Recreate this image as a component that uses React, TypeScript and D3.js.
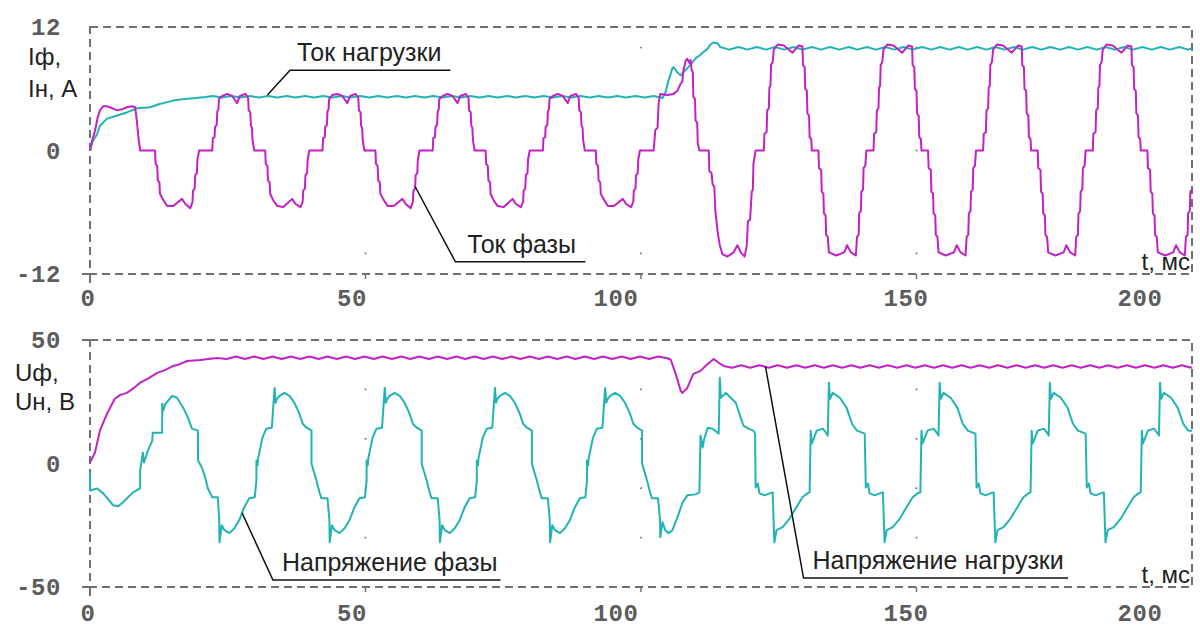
import React from "react";
import * as d3 from "d3";

// ---------- data (t in ms, value) as flat pairs ----------
const phaseCurrent = [
  0,0, 0.4,1.0, 0.9,1.9, 1.4,3.2, 1.8,3.9, 2.4,4.3, 3.0,4.3, 3.6,4.2, 4.9,3.9, 5.8,4.0, 6.7,4.2, 7.6,4.3, 8.2,4.2, 8.5,2.9, 8.8,1.2, 9.1,0,
  11.8,0, 11.9,-1.3, 12.2,-1.5, 12.3,-2.9, 12.6,-3.1, 12.7,-4.2, 13.3,-4.8, 14.0,-5.4, 15.1,-5.4, 16.7,-4.7, 17.3,-5.2, 18.2,-5.6, 18.6,-5.0, 18.7,-3.9, 19.0,-3.7, 19.1,-2.4, 19.4,-2.2, 19.5,-0.9, 19.8,0, 22.2,0, 22.3,1.2, 22.6,1.3, 22.7,2.3, 23.0,2.5, 23.1,3.8, 23.3,4.0, 23.4,5.0, 24.0,5.3, 24.9,5.5, 25.8,5.3, 26.7,4.6, 27.2,5.3, 28.2,5.5, 28.7,5.1, 28.8,3.9, 29.1,3.7, 29.2,2.4, 29.4,2.2, 29.5,1.0, 29.8,0,
  31.8,0, 31.9,-1.3, 32.2,-1.5, 32.3,-2.9, 32.6,-3.1, 32.7,-4.2, 33.3,-4.9, 34.0,-5.4, 35.1,-5.5, 36.7,-4.7, 37.3,-5.2, 38.2,-5.5, 38.6,-5.0, 38.7,-3.9, 39.0,-3.7, 39.1,-2.4, 39.4,-2.2, 39.5,-0.9, 39.8,0, 42.2,0, 42.3,1.2, 42.6,1.3, 42.7,2.3, 43.0,2.5, 43.1,3.8, 43.3,4.0, 43.4,5.0, 44.0,5.4, 44.9,5.5, 45.8,5.3, 46.7,4.6, 47.2,5.3, 48.2,5.5, 48.7,5.1, 48.8,3.9, 49.1,3.7, 49.2,2.4, 49.4,2.2, 49.5,1.0, 49.8,0,
  51.8,0, 51.9,-1.3, 52.2,-1.5, 52.3,-2.9, 52.6,-3.1, 52.7,-4.2, 53.3,-4.8, 54.0,-5.4, 55.1,-5.4, 56.7,-4.7, 57.3,-5.2, 58.2,-5.6, 58.6,-5.0, 58.7,-3.9, 59.0,-3.7, 59.1,-2.4, 59.4,-2.2, 59.5,-0.9, 59.8,0, 62.2,0, 62.3,1.2, 62.6,1.3, 62.7,2.3, 63.0,2.5, 63.1,3.8, 63.3,4.0, 63.4,5.0, 64.0,5.3, 64.9,5.5, 65.8,5.3, 66.7,4.6, 67.2,5.3, 68.2,5.5, 68.7,5.1, 68.8,3.9, 69.1,3.7, 69.2,2.4, 69.4,2.2, 69.5,1.0, 69.8,0,
  71.8,0, 71.9,-1.3, 72.2,-1.5, 72.3,-2.9, 72.6,-3.1, 72.7,-4.2, 73.3,-4.9, 74.0,-5.4, 75.1,-5.5, 76.7,-4.7, 77.3,-5.2, 78.2,-5.5, 78.6,-5.0, 78.7,-3.9, 79.0,-3.7, 79.1,-2.4, 79.4,-2.2, 79.5,-0.9, 79.8,0, 82.2,0, 82.3,1.2, 82.6,1.3, 82.7,2.3, 83.0,2.5, 83.1,3.8, 83.3,4.0, 83.4,5.0, 84.0,5.3, 84.9,5.5, 85.8,5.3, 86.7,4.6, 87.2,5.3, 88.2,5.5, 88.7,5.1, 88.8,3.9, 89.1,3.7, 89.2,2.4, 89.4,2.2, 89.5,1.0, 89.8,0,
  91.8,0, 91.9,-1.3, 92.2,-1.5, 92.3,-2.9, 92.6,-3.1, 92.7,-4.2, 93.3,-4.8, 94.0,-5.4, 95.1,-5.4, 96.7,-4.7, 97.3,-5.2, 98.2,-5.5, 98.6,-5.0, 98.7,-3.9, 99.0,-3.7, 99.1,-2.4, 99.4,-2.2, 99.5,-0.9, 99.8,0,
  102.3,0, 102.6,2.0, 103.0,2.2, 103.2,4.6, 103.5,5.5, 104.8,5.4, 105.9,5.5, 106.6,5.8, 107.2,6.5, 107.5,6.7, 107.7,7.8, 108.1,8.7, 108.4,8.9, 108.8,8.5, 109.0,8.8, 109.2,7.8, 109.4,7.6, 109.5,5.2, 109.8,5.0, 109.9,2.9, 110.2,2.7, 110.3,0.7, 110.6,0, 112.3,0, 112.4,-2.0, 112.8,-2.2, 113.0,-3.3, 113.3,-3.5, 113.5,-5.9, 113.9,-7.9, 114.3,-9.2, 114.8,-10.1, 115.7,-10.3, 116.8,-9.9, 117.5,-9.2, 118.1,-9.9, 118.8,-10.3, 119.2,-9.2, 119.4,-6.9, 119.8,-6.7, 120.1,-4.0, 120.3,-3.8, 120.4,-1.3, 120.8,0,
  122.3,0, 122.4,1.6, 122.8,1.8, 122.9,3.9, 123.2,4.1, 123.3,6.1, 123.5,6.3, 123.6,8.3, 123.9,8.6, 124.1,9.8, 124.8,10.3, 125.9,10.2, 127.5,9.5, 128.6,10.2, 129.3,10.1, 129.4,8.3, 129.7,8.1, 129.8,6.0, 130.1,5.8, 130.2,3.6, 130.5,3.4, 130.6,1.3, 130.9,1.1, 131.0,0, 132.2,0, 132.3,-1.7, 132.7,-1.9, 132.8,-4.0, 133.1,-4.2, 133.2,-6.1, 133.5,-6.3, 133.6,-8.2, 133.9,-8.4, 134.1,-9.9, 135.4,-10.2, 136.9,-9.9, 137.4,-9.2, 138.1,-9.9, 139.0,-10.2, 139.2,-8.4, 139.5,-8.2, 139.6,-6.1, 139.9,-5.9, 140.0,-4.0, 140.3,-3.8, 140.4,-1.7, 140.7,-1.5, 140.9,0,
  142.2,0, 142.3,1.6, 142.7,1.8, 142.8,3.9, 143.1,4.1, 143.2,6.1, 143.4,6.3, 143.5,8.3, 143.8,8.6, 144.0,9.8, 144.7,10.3, 145.8,10.2, 147.4,9.5, 148.5,10.2, 149.2,10.1, 149.3,8.3, 149.6,8.1, 149.7,6.0, 150.0,5.8, 150.1,3.6, 150.4,3.4, 150.5,1.3, 150.8,1.1, 150.9,0, 152.1,0, 152.2,-1.7, 152.6,-1.9, 152.7,-4.0, 153.0,-4.2, 153.1,-6.1, 153.4,-6.3, 153.5,-8.2, 153.8,-8.4, 154.0,-9.9, 155.3,-10.2, 156.8,-9.9, 157.3,-9.2, 158.0,-9.9, 158.9,-10.2, 159.1,-8.4, 159.4,-8.2, 159.5,-6.1, 159.8,-5.9, 159.9,-4.0, 160.2,-3.8, 160.3,-1.7, 160.6,-1.5, 160.8,0,
  162.1,0, 162.2,1.6, 162.6,1.8, 162.7,3.9, 163.0,4.1, 163.1,6.1, 163.3,6.3, 163.4,8.3, 163.7,8.6, 163.9,9.8, 164.6,10.3, 165.7,10.2, 167.3,9.5, 168.4,10.2, 169.1,10.1, 169.2,8.3, 169.5,8.1, 169.6,6.0, 169.9,5.8, 170.0,3.6, 170.3,3.4, 170.4,1.3, 170.7,1.1, 170.8,0, 172.0,0, 172.1,-1.7, 172.5,-1.9, 172.6,-4.0, 172.9,-4.2, 173.0,-6.1, 173.3,-6.3, 173.4,-8.2, 173.7,-8.4, 173.9,-9.9, 175.2,-10.2, 176.7,-9.9, 177.2,-9.2, 177.9,-9.9, 178.8,-10.2, 179.0,-8.4, 179.3,-8.2, 179.4,-6.1, 179.7,-5.9, 179.8,-4.0, 180.1,-3.8, 180.2,-1.7, 180.5,-1.5, 180.7,0,
  182.0,0, 182.1,1.6, 182.5,1.8, 182.6,3.9, 182.9,4.1, 183.0,6.1, 183.2,6.3, 183.3,8.3, 183.6,8.6, 183.8,9.8, 184.5,10.3, 185.6,10.2, 187.2,9.5, 188.3,10.2, 189.0,10.1, 189.1,8.3, 189.4,8.1, 189.5,6.0, 189.8,5.8, 189.9,3.6, 190.2,3.4, 190.3,1.3, 190.6,1.1, 190.7,0, 191.9,0, 192.0,-1.7, 192.4,-1.9, 192.5,-4.0, 192.8,-4.2, 192.9,-6.1, 193.2,-6.3, 193.3,-8.2, 193.6,-8.4, 193.8,-9.9, 195.1,-10.2, 196.6,-9.9, 197.1,-9.2, 197.8,-9.9, 198.7,-10.2, 198.9,-8.4, 199.2,-8.2, 199.3,-6.1, 199.6,-5.9, 199.7,-4.0, 200.0,-3.8,
];

const loadCurrent = [
  0,0, 0.5,0.9, 1.3,1.6, 1.8,2.4, 3.1,3.1, 4.9,3.4, 6.7,3.7, 8.5,4.1, 10.9,4.2, 12.5,4.5, 14.0,4.7, 15.6,4.9, 17.3,5.0, 19.2,5.1, 21.0,5.2, 22.3,5.3,
  24.0,5.15, 25.7,5.3, 27.3,5.15, 29.0,5.3, 30.7,5.15, 32.3,5.3, 34.0,5.15, 35.7,5.3, 37.3,5.15, 39.0,5.3, 40.7,5.15, 42.3,5.3, 44.0,5.15, 45.7,5.3, 47.3,5.15, 49.0,5.3, 50.7,5.15, 52.3,5.3, 54.0,5.15, 55.7,5.3, 57.3,5.15, 59.0,5.3, 60.7,5.15, 62.3,5.3, 64.0,5.15, 65.7,5.3, 67.3,5.15, 69.0,5.3, 70.7,5.15, 72.3,5.3, 74.0,5.15, 75.7,5.3, 77.3,5.15, 79.0,5.3, 80.7,5.15, 82.3,5.3, 84.0,5.15, 85.7,5.3, 87.3,5.15, 89.0,5.3, 90.7,5.15, 92.3,5.3, 94.0,5.15, 95.7,5.3, 97.3,5.15, 99.0,5.3, 100.7,5.15, 102.3,5.3,
  103.9,5.1, 104.4,5.6, 105.0,6.8, 105.7,8.0, 105.9,8.1, 106.6,7.6, 107.2,7.3, 107.7,7.6, 108.6,8.1, 109.4,8.6, 110.0,9.0, 110.8,9.3, 111.4,9.6, 112.1,9.9, 112.6,10.3, 113.2,10.5, 113.9,10.4, 114.4,10.05,
  116.0,9.8, 117.7,10.05, 119.3,9.8, 121.0,10.05, 122.7,9.8, 124.3,10.05, 126.0,9.8, 127.7,10.05, 129.3,9.8, 131.0,10.05, 132.7,9.8, 134.3,10.05, 136.0,9.8, 137.7,10.05, 139.3,9.8, 141.0,10.05, 142.7,9.8, 144.3,10.05, 146.0,9.8, 147.7,10.05, 149.3,9.8, 151.0,10.05, 152.7,9.8, 154.3,10.05, 156.0,9.8, 157.7,10.05, 159.3,9.8, 161.0,10.05, 162.7,9.8, 164.3,10.05, 166.0,9.8, 167.7,10.05, 169.3,9.8, 171.0,10.05, 172.7,9.8, 174.3,10.05, 176.0,9.8, 177.7,10.05, 179.3,9.8, 181.0,10.05, 182.7,9.8, 184.3,10.05, 186.0,9.8, 187.7,10.05, 189.3,9.8, 191.0,10.05, 192.7,9.8, 194.3,10.05, 196.0,9.8, 197.7,10.05, 199.3,9.8, 200.0,9.95,
];

const phaseVoltage = [
  0,-3.6, 0,-10.9, 1.3,-10.1, 2.4,-12.1, 4.2,-16.9, 5.1,-17.3, 6.0,-15.7, 7.8,-11.7, 9.1,-10.1, 9.1,-2.8, 9.6,4.4, 9.8,0.4, 10.5,5.2, 11.3,9.3, 11.4,12.5, 13.1,12.5, 13.1,24.2, 13.3,21.4, 13.6,23.8, 14.9,27.4, 15.8,26.6, 16.9,22.6, 17.8,18.5, 18.5,14.1, 19.6,13.3, 19.6,1.2, 20.3,-1.6, 20.9,-5.6, 21.4,-10.1, 22.2,-13.7, 23.2,-13.7, 23.45,-22.9,
  23.5,-31.9, 23.9,-25.0, 24.4,-27.0, 25.3,-28.2, 26.2,-26.2, 27.1,-22.9, 28.0,-17.7, 28.9,-14.1, 29.9,-13.7, 30.2,-6.9, 30.2,1.2, 30.4,-0.8, 30.5,2.0, 30.8,5.2, 31.3,10.5, 32.0,14.1, 33.0,14.5, 33.5,30.6, 33.7,24.6, 33.9,26.0, 34.4,27.4, 35.3,28.6, 36.2,27.4, 37.1,24.6, 38.0,20.2, 38.6,16.1, 39.3,14.5, 40.2,13.3, 40.2,0, 40.4,-1.6, 41.1,-6.9, 41.7,-12.1, 42.0,-14.1, 43.1,-14.1, 43.45,-22.9,
  43.5,-31.9, 43.9,-25.0, 44.4,-27.0, 45.3,-28.2, 46.2,-26.2, 47.1,-22.9, 48.0,-17.7, 48.9,-14.1, 49.9,-13.7, 50.2,-6.9, 50.2,1.2, 50.4,-0.8, 50.5,2.0, 50.8,5.2, 51.3,10.5, 52.0,14.1, 53.0,14.5, 53.5,30.6, 53.7,24.6, 53.9,26.0, 54.4,27.4, 55.3,28.6, 56.2,27.4, 57.1,24.6, 58.0,20.2, 58.6,16.1, 59.3,14.5, 60.2,13.3, 60.2,0, 60.4,-1.6, 61.1,-6.9, 61.7,-12.1, 62.0,-14.1, 63.1,-14.1, 63.45,-22.9,
  63.5,-31.9, 63.9,-25.0, 64.4,-27.0, 65.3,-28.2, 66.2,-26.2, 67.1,-22.9, 68.0,-17.7, 68.9,-14.1, 69.9,-13.7, 70.2,-6.9, 70.2,1.2, 70.4,-0.8, 70.5,2.0, 70.8,5.2, 71.3,10.5, 72.0,14.1, 73.0,14.5, 73.5,30.6, 73.7,24.6, 73.9,26.0, 74.4,27.4, 75.3,28.6, 76.2,27.4, 77.1,24.6, 78.0,20.2, 78.6,16.1, 79.3,14.5, 80.2,13.3, 80.2,0, 80.4,-1.6, 81.1,-6.9, 81.7,-12.1, 82.0,-14.1, 83.1,-14.1, 83.45,-22.9,
  83.5,-31.9, 83.9,-25.0, 84.4,-27.0, 85.3,-28.2, 86.2,-26.2, 87.1,-22.9, 88.0,-17.7, 88.9,-14.1, 89.9,-13.7, 90.2,-6.9, 90.2,1.2, 90.4,-0.8, 90.5,2.0, 90.8,5.2, 91.3,10.5, 92.0,14.1, 93.0,14.5, 93.5,30.6, 93.7,24.6, 93.9,26.0, 94.4,27.4, 95.3,28.6, 96.2,27.4, 97.1,24.6, 98.0,20.2, 98.6,16.1, 99.3,14.5, 100.2,13.3, 100.2,0, 100.4,-1.6, 101.1,-6.9, 101.7,-12.1, 102.0,-14.1, 103.1,-14.1, 103.45,-22.9,
  103.5,-29.8, 103.9,-23.8, 104.4,-27.0, 105.0,-28.2, 105.7,-27.0, 106.6,-21.8, 107.5,-16.1, 108.4,-12.9, 109.9,-12.5, 110.6,-11.7, 110.8,11.3, 111.2,6.5, 111.4,9.3, 112.1,14.5, 113.0,14.1, 114.1,12.1, 114.3,34.7, 114.5,26.6, 115.4,28.6, 116.3,26.6, 117.2,24.6, 118.1,18.5, 118.6,15.3, 119.5,14.1, 120.4,13.3, 120.7,12.1,
  120.8,-9.7, 121.2,-8.1, 121.5,-12.1, 122.4,-12.9, 123.3,-12.1, 123.9,-11.7, 124.2,-31.9, 124.6,-27.0, 125.7,-25.8, 127.0,-22.2, 128.2,-17.7, 129.3,-13.7, 130.2,-12.1, 130.6,-11.7,
  130.8,13.3, 131.0,8.1, 131.2,9.3, 131.9,13.3, 133.0,14.1, 133.7,12.1, 133.9,11.3, 134.1,32.7, 134.3,26.2, 134.8,28.6, 136.1,26.6, 137.3,22.6, 138.3,16.1, 139.2,13.3, 140.6,12.1, 140.8,-9.7, 141.2,-8.1, 141.5,-12.1, 142.4,-12.9, 143.3,-12.1, 143.9,-11.7, 144.2,-31.9, 144.6,-27.0, 145.7,-25.8, 147.0,-22.2, 148.2,-17.7, 149.3,-13.7, 150.2,-12.1, 150.7,-11.7,
  150.9,13.3, 151.1,8.1, 151.3,9.3, 152.0,13.3, 153.1,14.1, 153.8,12.1, 154.0,11.3, 154.2,32.7, 154.4,26.2, 154.9,28.6, 156.2,26.6, 157.4,22.6, 158.4,16.1, 159.3,13.3, 160.7,12.1, 160.9,-9.7, 161.3,-8.1, 161.6,-12.1, 162.5,-12.9, 163.4,-12.1, 164.0,-11.7, 164.3,-31.9, 164.7,-27.0, 165.8,-25.8, 167.1,-22.2, 168.3,-17.7, 169.4,-13.7, 170.3,-12.1, 170.7,-11.7,
  170.9,13.3, 171.1,8.1, 171.3,9.3, 172.0,13.3, 173.1,14.1, 173.8,12.1, 174.0,11.3, 174.2,32.7, 174.4,26.2, 174.9,28.6, 176.2,26.6, 177.4,22.6, 178.4,16.1, 179.3,13.3, 180.7,12.1, 180.9,-9.7, 181.3,-8.1, 181.6,-12.1, 182.5,-12.9, 183.4,-12.1, 184.0,-11.7, 184.3,-31.9, 184.7,-27.0, 185.8,-25.8, 187.1,-22.2, 188.3,-17.7, 189.4,-13.7, 190.3,-12.1, 190.7,-11.7,
  190.9,13.3, 191.1,8.1, 191.3,9.3, 192.0,13.3, 193.1,14.1, 193.8,12.1, 194.0,11.3, 194.2,32.7, 194.4,26.2, 194.9,28.6, 196.2,26.6, 197.4,22.6, 198.4,16.1, 199.3,13.3, 200.0,13.3,
];

const loadVoltage = [
  0,0.4, 0.9,4.4, 1.8,13.3, 3.1,20.2, 4.5,26.2, 5.5,27.8, 6.7,28.6, 7.9,30.5, 9.1,32.7, 10.6,34.5, 12.2,36.7, 13.6,37.8, 15.1,39.5, 16.3,40.2, 17.6,41.5, 20.0,41.9, 21.5,42.3, 23.1,42.7,
  24.8,42.3, 26.5,43.3, 28.1,42.3, 29.8,43.3, 31.5,42.3, 33.1,43.3, 34.8,42.3, 36.5,43.3, 38.1,42.3, 39.8,43.3, 41.5,42.3, 43.1,43.3, 44.8,42.3, 46.5,43.3, 48.1,42.3, 49.8,43.3, 51.5,42.3, 53.1,43.3, 54.8,42.3, 56.5,43.3, 58.1,42.3, 59.8,43.3, 61.5,42.3, 63.1,43.3, 64.8,42.3, 66.5,43.3, 68.1,42.3, 69.8,43.3, 71.5,42.3, 73.1,43.3, 74.8,42.3, 76.5,43.3, 78.1,42.3, 79.8,43.3, 81.5,42.3, 83.1,43.3, 84.8,42.3, 86.5,43.3, 88.1,42.3, 89.8,43.3, 91.5,42.3, 93.1,43.3, 94.8,42.3, 96.5,43.3, 98.1,42.3, 99.8,43.3, 101.5,42.3, 103.1,43.3, 104.8,42.6,
  105.4,42.0, 106.3,36.3, 107.2,29.4, 107.5,28.6, 108.4,30.6, 109.5,36.3, 110.8,37.5, 112.1,40.3, 113.2,42.3, 114.4,40.3, 115.0,39.5,
  116.5,38.8, 118.2,39.8, 119.8,38.8, 121.5,39.8, 123.2,38.8, 124.8,39.8, 126.5,38.8, 128.2,39.8, 129.8,38.8, 131.5,39.8, 133.2,38.8, 134.8,39.8, 136.5,38.8, 138.2,39.8, 139.8,38.8, 141.5,39.8, 143.2,38.8, 144.8,39.8, 146.5,38.8, 148.2,39.8, 149.8,38.8, 151.5,39.8, 153.2,38.8, 154.8,39.8, 156.5,38.8, 158.2,39.8, 159.8,38.8, 161.5,39.8, 163.2,38.8, 164.8,39.8, 166.5,38.8, 168.2,39.8, 169.8,38.8, 171.5,39.8, 173.2,38.8, 174.8,39.8, 176.5,38.8, 178.2,39.8, 179.8,38.8, 181.5,39.8, 183.2,38.8, 184.8,39.8, 186.5,38.8, 188.2,39.8, 189.8,38.8, 191.5,39.8, 193.2,38.8, 194.8,39.8, 196.5,38.8, 198.2,39.8, 199.8,38.8, 200.0,39.0,
];

const xTickValues = [0, 50, 100, 150, 200];
const topYTicks = [12, 0, -12];
const bottomYTicks = [50, 0, -50];
const gridTimes = [50, 100, 150];
const topGridValues = [10, 0, -10];
const bottomGridValues = [30, 10, -10, -30];

// annotations: anchor on curve, elbow point (data units), end of underline (t)
const topNotes = [
  { label: "Ток нагрузки", anchor: [32.2, 5.4], elbow: [36.3, 7.8], end: 65.4, dx: 7 },
  { label: "Ток фазы", anchor: [59.0, -3.5], elbow: [66.3, -10.8], end: 89.9, dx: 12 },
];
const bottomNotes = [
  { label: "Напряжение фазы", anchor: [27.6, -20.0], elbow: [33.2, -47.2], end: 74.5, dx: 9 },
  { label: "Напряжение нагрузки", anchor: [122.6, 39.1], elbow: [129.5, -46.4], end: 177.5, dx: 9 },
];

// ---------- layout ----------
const W = 1200, H = 627;
const LEFT = 90, RIGHT = 1192;
const MAGENTA = "#c022c6";
const CYAN = "#22b4b4";
const FRAME = "#707070";
const TICKTXT = "#5c5c5c";
const FONT = "'Liberation Sans', Arial, sans-serif";
const TICKFONT = "'Liberation Mono', 'DejaVu Sans Mono', monospace";
// tick label centres, as measured on the reference
const xLabelCentres = [88, 352, 616, 906, 1140];

function toPairs(a: number[]): [number, number][] {
  const r: [number, number][] = [];
  for (let i = 0; i < a.length; i += 2) r.push([a[i], a[i + 1]]);
  return r;
}

const x = d3.scaleLinear().domain([0, 200]).range([LEFT, RIGHT]);

function Panel(props: {
  top: number; bottom: number; domain: [number, number];
  series: { data: number[]; color: string }[];
  yTicks: number[]; gridValues: number[];
  titles: string[]; titleX: number; titleY: number[];
  notes: { label: string; anchor: number[]; elbow: number[]; end: number; dx: number }[];
  labelBaseline: number; topTick: boolean;
}) {
  const y = d3.scaleLinear().domain(props.domain).range([props.bottom, props.top]);
  const line = d3.line<[number, number]>().x(d => x(d[0])).y(d => y(d[1]));
  return (
    <g>
      {gridTimes.map(t => props.gridValues.map(v => (
        <rect key={`g${t}_${v}`} x={x(t) - 0.8} y={y(v) - 0.8} width={1.6} height={1.6} fill="#666" />
      )))}
      <rect x={LEFT} y={props.top} width={RIGHT - LEFT} height={props.bottom - props.top}
        fill="none" stroke={FRAME} strokeWidth={2} strokeDasharray="8 5" />
      {gridTimes.map(t => (
        <line key={`tk${t}`} x1={x(t)} x2={x(t)} y1={props.bottom} y2={props.bottom + 5} stroke={FRAME} strokeWidth={1.5} />
      ))}
      <line x1={LEFT} x2={LEFT} y1={props.bottom} y2={props.bottom + 9} stroke={FRAME} strokeWidth={2} />
      <line x1={LEFT - 8} x2={LEFT} y1={props.bottom} y2={props.bottom} stroke={FRAME} strokeWidth={2} />
      {props.topTick && <line x1={LEFT - 8} x2={LEFT} y1={props.top} y2={props.top} stroke={FRAME} strokeWidth={2} />}
      {props.series.map((s, i) => (
        <path key={i} d={line(toPairs(s.data)) || ""} fill="none" stroke={s.color}
          strokeWidth={2} strokeLinejoin="round" />
      ))}
      {props.yTicks.map(v => (
        <text key={`yt${v}`} x={61} y={y(v) + 8} textAnchor="end" fontFamily={TICKFONT}
          fontWeight="bold" fontSize={24} fill={TICKTXT} letterSpacing={0.6}>{v}</text>
      ))}
      {props.titles.map((s, i) => (
        <text key={`tt${i}`} x={props.titleX} y={props.titleY[i]} fontFamily={FONT}
          fontSize={24} fill="#222">{s}</text>
      ))}
      <text x={RIGHT - 2} y={props.bottom - 4} textAnchor="end" fontFamily={FONT} fontSize={24} fill="#222">t, мс</text>
      {xTickValues.map((v, i) => (
        <text key={`xt${v}`} x={xLabelCentres[i]} y={props.labelBaseline} textAnchor="middle" fontFamily={TICKFONT}
          fontWeight="bold" fontSize={24} fill={TICKTXT} letterSpacing={0.6}>{v}</text>
      ))}
      {props.notes.map(n => {
        const ax = x(n.anchor[0]), ay = y(n.anchor[1]);
        const ex = x(n.elbow[0]), ey = y(n.elbow[1]);
        const fx = x(n.end);
        return (
          <g key={n.label}>
            <polyline points={`${ax},${ay} ${ex},${ey} ${fx},${ey}`} fill="none" stroke="#111" strokeWidth={1.5} />
            <text x={ex + n.dx} y={ey - 9} fontFamily={FONT} fontSize={25} fill="#222">{n.label}</text>
          </g>
        );
      })}
    </g>
  );
}

export default function App() {
  return (
    <svg width={W} height={H} style={{ position: "absolute", left: 0, top: 0, background: "#fff" }}>
      <rect x={0} y={0} width={W} height={H} fill="#fff" />
      <Panel top={27} bottom={274} domain={[-12, 12]}
        series={[{ data: loadCurrent, color: CYAN }, { data: phaseCurrent, color: MAGENTA }]}
        yTicks={topYTicks} gridValues={topGridValues}
        titles={["Iф,", "Iн, A"]} titleX={28} titleY={[65, 97]}
        notes={topNotes} labelBaseline={306} topTick={false} />
      <Panel top={340} bottom={587} domain={[-50, 50]}
        series={[{ data: loadVoltage, color: MAGENTA }, { data: phaseVoltage, color: CYAN }]}
        yTicks={bottomYTicks} gridValues={bottomGridValues}
        titles={["Uф,", "Uн, B"]} titleX={15} titleY={[381, 410]}
        notes={bottomNotes} labelBaseline={621} topTick={true} />
    </svg>
  );
}
